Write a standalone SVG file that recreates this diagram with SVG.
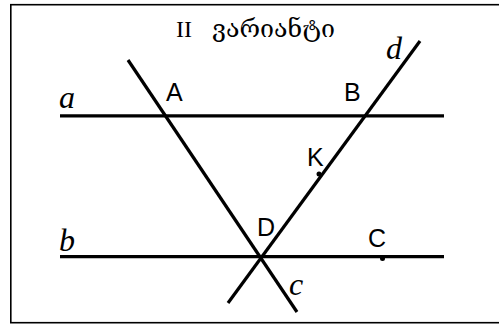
<svg xmlns="http://www.w3.org/2000/svg" width="499" height="324" viewBox="0 0 499 324">
<style>
.ln{stroke:#000;stroke-width:3.2;fill:none;stroke-linecap:butt}
.it{font-family:"Liberation Serif","DejaVu Serif",serif;font-style:italic;font-size:32px;fill:#000}
.pt{font-family:"Liberation Sans",Arial,sans-serif;font-size:25px;fill:#000}
.tt{font-family:"Liberation Serif","DejaVu Serif",serif;font-size:24px;fill:#000}
</style>
<rect x="0" y="0" width="499" height="324" fill="#fff"/>
<rect id="frame" x="10.8" y="4.7" width="500" height="318" fill="none" stroke="#000" stroke-width="1.6"/>
<g id="title"><text class="tt" x="176" y="37">II</text><text class="tt" x="212" y="37" textLength="123" lengthAdjust="spacingAndGlyphs">ვარიანტი</text></g>
<g id="connectors">
<line id="line-a" class="ln" x1="60" y1="115.8" x2="444" y2="115.8"/>
<line id="line-b" class="ln" x1="60" y1="256.6" x2="444" y2="256.6"/>
<line id="line-c" class="ln" x1="128" y1="60" x2="297" y2="312"/>
<line id="line-d" class="ln" x1="420" y1="41" x2="228" y2="303"/>
</g>
<g id="label-a"><text class="it" x="59" y="108">a</text></g>
<g id="label-b"><text class="it" x="59" y="251">b</text></g>
<g id="label-c"><text class="it" x="289" y="295">c</text></g>
<g id="label-d"><text class="it" x="386" y="59">d</text></g>
<g id="A"><text class="pt" x="166" y="101">A</text></g>
<g id="B"><text class="pt" x="344" y="101">B</text></g>
<g id="K"><circle cx="319" cy="174" r="2.5"/><text class="pt" x="307" y="166">K</text></g>
<g id="D"><text class="pt" x="257" y="236">D</text></g>
<g id="C"><circle cx="382.5" cy="258.5" r="2.5"/><text class="pt" x="368" y="247">C</text></g>
</svg>
